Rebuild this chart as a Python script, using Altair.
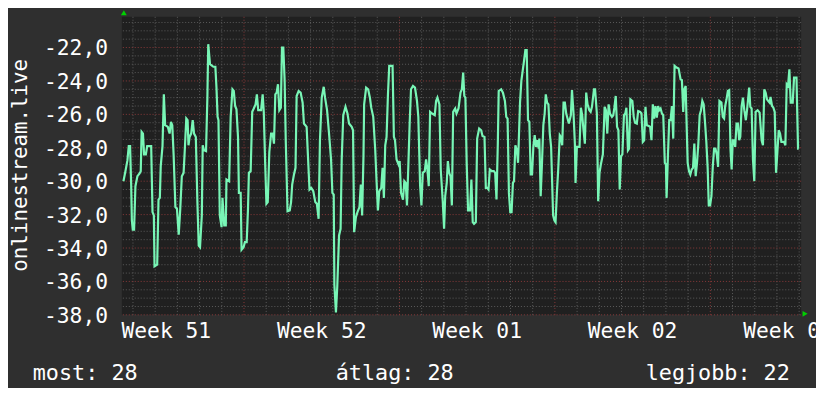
import altair as alt
import pandas as pd

# ---- data (x in days from the left edge, y = value) ----
days_w1 = [0.07, 0.16, 0.25, 0.31, 0.37, 0.42, 0.45, 0.49, 0.55, 0.61, 0.70, 0.79, 0.85, 0.89, 0.95, 1.00,
           1.08, 1.14, 1.32, 1.38, 1.44, 1.47, 1.59, 1.65, 1.71, 1.75, 1.83, 1.89, 1.95, 2.07, 2.15, 2.21,
           2.27, 2.33, 2.41, 2.48, 2.56, 2.63, 2.70, 2.78, 2.84, 2.90, 2.96, 3.00, 3.05, 3.12, 3.19, 3.25,
           3.33, 3.40, 3.46, 3.52, 3.60, 3.64, 3.70, 3.79, 3.85, 3.89, 3.97, 4.12, 4.21, 4.26, 4.31, 4.35,
           4.41, 4.49, 4.53, 4.61, 4.68, 4.71, 4.83, 4.90, 4.98, 5.04, 5.10, 5.16, 5.23, 5.27, 5.35, 5.39,
           5.48, 5.54, 5.62, 5.68, 5.72, 5.80, 5.87, 5.94, 6.02, 6.08, 6.14, 6.27, 6.34, 6.39, 6.45, 6.51,
           6.57, 6.64, 6.72, 6.79, 6.85, 6.91, 6.97, 7.03, 7.09, 7.16, 7.21, 7.27, 7.33, 7.38, 7.46, 7.56,
           7.62, 7.67, 7.75, 7.82]
vals_w1 = [-30.0, -29.4, -28.76, -27.9, -27.9, -30.3, -32.35, -32.9, -32.9, -30.3, -29.7, -29.55, -29.4, -27.05, -27.15, -28.4,
           -28.4, -27.9, -27.9, -31.85, -32.05, -35.1, -35.0, -31.1, -31.0, -29.1, -27.9, -24.8, -26.65, -26.75, -27.15, -26.45,
           -26.65, -28.4, -31.55, -31.65, -33.2, -31.65, -29.7, -29.5, -27.95, -26.25, -26.35, -27.85, -27.35, -27.15, -26.35, -27.15,
           -27.35, -31.2, -33.85, -33.95, -32.05, -27.85, -28.15, -28.2, -25.0, -21.8, -23.0, -23.15, -23.15, -24.4, -26.15, -26.35,
           -32.05, -32.75, -31.0, -32.65, -32.65, -29.9, -30.0, -26.15, -24.5, -24.6, -25.5, -25.7, -27.35, -30.7, -30.7, -34.1,
           -33.95, -33.65, -33.65, -31.65, -29.5, -29.4, -25.85, -25.65, -25.4, -24.8, -25.75, -25.75, -24.8, -25.85, -28.8, -31.35,
           -31.25, -28.25, -27.15, -27.15, -27.75, -24.8, -24.7, -24.2, -25.75, -25.6, -22.0, -22.0, -24.0, -27.55, -31.8, -31.75,
           -31.25, -30.2, -29.6, -29.2]

days_w2 = [7.87, 7.96, 8.05, 8.14, 8.20, 8.32, 8.38, 8.45, 8.53, 8.62, 8.71, 8.78, 8.86, 8.92, 9.00, 9.09,
           9.15, 9.24, 9.33, 9.42, 9.48, 9.54, 9.57, 9.64, 9.70, 9.78, 9.85, 9.90, 9.97, 10.07, 10.16, 10.23,
           10.35, 10.41, 10.46, 10.54, 10.61, 10.70, 10.76, 10.82, 10.88, 10.91, 11.00, 11.09, 11.17, 11.23, 11.32, 11.41,
           11.47, 11.53, 11.59, 11.68, 11.74, 11.80, 11.86, 11.92, 11.98, 12.04, 12.19, 12.25, 12.30, 12.37, 12.46, 12.51,
           12.57, 12.66, 12.72, 12.78, 12.84, 12.90, 12.96, 13.02, 13.11, 13.20, 13.29, 13.35, 13.43, 13.49, 13.55, 13.64,
           13.70, 13.76, 13.82, 13.88, 13.97, 14.09, 14.15, 14.21, 14.30, 14.36, 14.45, 14.51, 14.56, 14.63, 14.68, 14.74,
           14.80, 14.86, 14.92, 15.01, 15.07, 15.16, 15.25, 15.31, 15.37]
vals_w2 = [-24.9, -24.6, -24.7, -25.3, -26.55, -26.75, -28.5, -30.5, -30.4, -30.6, -31.25, -31.35, -32.25, -27.55, -25.0, -24.35,
           -25.0, -25.75, -27.15, -28.7, -30.7, -30.8, -36.2, -37.85, -36.3, -33.25, -32.85, -28.7, -26.05, -25.55, -25.95, -26.55,
           -26.75, -26.95, -33.05, -32.15, -31.85, -31.55, -30.2, -32.05, -28.5, -25.4, -24.4, -24.5, -25.0, -25.6, -26.15, -28.15,
           -30.0, -31.75, -30.6, -30.4, -29.2, -31.0, -27.85, -27.35, -24.9, -23.1, -23.1, -27.35, -27.55, -28.7, -29.0, -28.8,
           -30.7, -31.1, -30.0, -30.1, -31.45, -29.1, -26.55, -24.5, -24.3, -24.4, -25.2, -26.15, -30.25, -31.45, -29.5, -29.4,
           -28.7, -29.3, -30.3, -25.85, -25.95, -26.05, -25.2, -25.0, -25.4, -29.3, -31.2, -32.85, -30.9, -30.1, -28.8, -29.5,
           -29.7, -31.45, -25.85, -25.65, -25.95, -25.65, -24.7, -24.5, -23.5]

days_w3 = [15.42, 15.47, 15.53, 15.59, 15.68, 15.74, 15.80, 15.86, 15.94, 16.00, 16.09, 16.18, 16.24, 16.33, 16.39, 16.45,
           16.51, 16.57, 16.66, 16.75, 16.81, 16.87, 16.93, 16.97, 17.08, 17.16, 17.25, 17.31, 17.37, 17.43, 17.49, 17.55,
           17.61, 17.66, 17.72, 17.79, 17.84, 17.87, 17.93, 17.99, 18.05, 18.11, 18.17, 18.23, 18.29, 18.35, 18.41, 18.47,
           18.53, 18.59, 18.65, 18.71, 18.77, 18.80, 18.86, 18.92, 18.98, 19.04, 19.09, 19.15, 19.21, 19.27, 19.33, 19.42,
           19.48, 19.53, 19.59, 19.65, 19.72, 19.77, 19.83, 19.89, 19.95, 20.01, 20.07, 20.13, 20.22, 20.27, 20.34, 20.40,
           20.43, 20.49, 20.61, 20.67, 20.73, 20.79, 20.85, 20.91, 20.97, 21.05, 21.11, 21.17, 21.26, 21.31, 21.39, 21.45,
           21.51, 21.57, 21.66, 21.74, 21.80, 21.86, 21.92, 21.98, 22.07, 22.13, 22.18, 22.24, 22.30, 22.36, 22.42, 22.48,
           22.54, 22.61, 22.67, 22.72, 22.79, 22.84, 22.90, 22.99, 23.05, 23.11, 23.19]
vals_w3 = [-24.9, -25.0, -29.0, -31.75, -31.75, -29.9, -32.45, -32.55, -32.45, -27.45, -26.85, -26.95, -27.3, -27.35, -30.4, -30.4,
           -30.5, -29.3, -29.4, -29.4, -29.5, -31.1, -27.75, -24.6, -24.5, -24.7, -25.2, -26.15, -26.25, -30.7, -31.85, -31.85,
           -30.1, -30.0, -27.85, -28.15, -28.9, -27.75, -25.3, -24.0, -23.4, -22.8, -22.15, -22.15, -26.35, -26.45, -29.6, -29.6,
           -27.95, -27.25, -27.95, -27.55, -28.05, -27.45, -30.9, -28.9, -26.65, -25.95, -24.8, -25.3, -25.4, -27.15, -27.95, -32.05,
           -32.35, -32.45, -30.7, -29.3, -27.25, -27.35, -27.85, -25.3, -25.3, -25.95, -26.25, -26.55, -26.05, -24.55, -25.95, -27.75,
           -30.1, -27.95, -27.95, -25.6, -26.05, -26.95, -27.75, -24.7, -25.4, -25.75, -25.85, -25.55, -24.5, -24.5, -25.95, -31.2,
           -29.5, -29.0, -28.4, -25.55, -25.75, -27.15, -25.4, -25.95, -26.15, -26.05, -25.6, -24.9, -26.75, -26.95, -30.5, -28.5,
           -28.4, -26.05, -25.95, -25.6, -28.15, -28.05, -25.1, -25.2, -26.15, -26.5, -26.55]

days_w4 = [23.25, 23.34, 23.40, 23.46, 23.52, 23.58, 23.64, 23.73, 23.79, 23.85, 23.91, 23.97, 24.03, 24.09, 24.15, 24.20,
           24.26, 24.32, 24.38, 24.45, 24.50, 24.53, 24.59, 24.65, 24.71, 24.77, 24.83, 24.89, 24.98, 25.07, 25.16, 25.22,
           25.28, 25.33, 25.39, 25.42, 25.48, 25.54, 25.60, 25.66, 25.72, 25.78, 25.84, 25.90, 25.96, 26.02, 26.08, 26.14,
           26.20, 26.26, 26.32, 26.38, 26.43, 26.49, 26.55, 26.61, 26.67, 26.73, 26.79, 26.85, 26.91, 27.00, 27.06, 27.12,
           27.17, 27.23, 27.29, 27.35, 27.41, 27.46, 27.51, 27.57, 27.62, 27.68, 27.74, 27.80, 27.85, 27.91, 27.97, 28.03,
           28.10, 28.16, 28.25, 28.30, 28.36, 28.42, 28.48, 28.54, 28.63, 28.72, 28.81, 28.87, 28.93, 28.99, 29.05, 29.11,
           29.17, 29.21, 29.28, 29.34, 29.40, 29.46, 29.52, 29.58, 29.64, 29.70, 29.76, 29.82, 29.88, 29.94, 30.00, 30.06,
           30.12, 30.21, 30.27, 30.38, 30.45, 30.48]
vals_w4 = [-25.8, -25.85, -25.95, -27.65, -27.55, -25.55, -26.65, -26.7, -26.75, -27.55, -25.4, -26.25, -25.5, -26.2, -25.5, -25.75,
           -25.65, -25.95, -26.05, -28.9, -29.0, -31.0, -28.5, -26.35, -26.35, -25.5, -27.45, -23.1, -23.2, -23.25, -23.9, -23.95,
           -25.85, -24.5, -24.3, -25.95, -28.9, -29.4, -29.6, -29.3, -29.2, -27.75, -29.7, -28.9, -27.75, -26.05, -25.75, -25.2,
           -25.4, -26.45, -27.65, -29.2, -31.45, -31.45, -30.9, -29.15, -28.05, -28.05, -28.4, -29.15, -25.2, -25.3, -26.15, -26.25,
           -25.5, -25.1, -24.6, -24.55, -28.15, -29.3, -27.55, -27.55, -27.95, -26.55, -26.55, -27.55, -27.35, -25.5, -25.0, -25.75,
           -26.35, -25.65, -24.4, -25.55, -25.65, -28.7, -30.0, -25.85, -25.75, -25.9, -27.55, -27.85, -24.5, -24.7, -25.1, -25.2,
           -25.3, -24.95, -25.5, -25.6, -25.85, -29.5, -28.25, -26.95, -27.15, -27.65, -27.65, -27.65, -27.85, -24.2, -24.3, -23.3,
           -25.3, -25.3, -23.8, -23.8, -28.05, -28.05]

y_ticks = [-38, -36, -34, -32, -30, -28, -26, -24, -22]
y_tick_labels = ["-38,0", "-36,0", "-34,0", "-32,0", "-30,0", "-28,0", "-26,0", "-24,0", "-22,0"]
y_minor = [-38 + 0.5 * i for i in range(36)]
week_pos = [2, 9, 16, 23, 30]
week_names = ["Week 51", "Week 52", "Week 01", "Week 02", "Week 03"]
week_starts = [5.5, 12.5, 19.5, 26.5]
day_lines = [k + 0.5 for k in range(31) if (k + 0.5) not in week_starts]
y_title = "onlinestream.live"
legend_texts = ["most: 28", "átlag: 28", "legjobb: 22"]

X_DOMAIN = [0, 30.59]
Y_DOMAIN = [-38, -20.16]

FONT = "DejaVu Sans Mono"
TEXT = "#ffffff"
LINE = "#78f6b6"
MINOR = "#5c5c5c"
MAJOR = "#8c3a3a"

series = pd.DataFrame({"day": days_w1 + days_w2 + days_w3 + days_w4,
                       "value": vals_w1 + vals_w2 + vals_w3 + vals_w4})

xs = alt.Scale(domain=X_DOMAIN, nice=False, zero=False)
ys = alt.Scale(domain=Y_DOMAIN, nice=False, zero=False)

# grid
hminor = alt.Chart(pd.DataFrame({"v": [v for v in y_minor if v % 2 != 0]})).mark_rule(
    color=MINOR, strokeWidth=1, strokeDash=[1, 2]).encode(y=alt.Y("v:Q", scale=ys, axis=None))
hmajor = alt.Chart(pd.DataFrame({"v": y_ticks})).mark_rule(
    color=MAJOR, strokeWidth=1, strokeDash=[1, 2]).encode(y=alt.Y("v:Q", scale=ys, axis=None))
vminor = alt.Chart(pd.DataFrame({"d": day_lines})).mark_rule(
    color=MINOR, strokeWidth=1, strokeDash=[1, 2]).encode(x=alt.X("d:Q", scale=xs, axis=None))
vmajor = alt.Chart(pd.DataFrame({"d": week_starts})).mark_rule(
    color=MAJOR, strokeWidth=1, strokeDash=[1, 2]).encode(x=alt.X("d:Q", scale=xs, axis=None))

# the series
line = alt.Chart(series).mark_line(color=LINE, strokeWidth=2.2, interpolate="linear").encode(
    x=alt.X("day:Q", scale=xs, axis=None),
    y=alt.Y("value:Q", scale=ys, axis=None),
)

# y tick labels, placed through the y scale
ylab = alt.Chart(pd.DataFrame({"v": y_ticks, "t": y_tick_labels})).mark_text(
    font=FONT, fontSize=21.5, color=TEXT, align="right", baseline="alphabetic", dy=8).encode(
    y=alt.Y("v:Q", scale=ys, axis=None), x=alt.value(-14), text="t:N")

# week labels, placed through the x scale
xlab = alt.Chart(pd.DataFrame({"p": week_pos, "t": week_names})).mark_text(
    font=FONT, fontSize=21.5, color=TEXT, align="center", baseline="alphabetic").encode(
    x=alt.X("p:Q", scale=xs, axis=None), y=alt.value(324), text="t:N")

ytitle = alt.Chart(pd.DataFrame({"t": [y_title]})).mark_text(
    font=FONT, fontSize=21, color=TEXT, align="center", baseline="alphabetic", angle=270).encode(
    x=alt.value(-96), y=alt.value(150), text="t:N")

legend_x = [-90, 216, 529]
legend_layers = [
    alt.Chart(pd.DataFrame({"t": [t]})).mark_text(
        font=FONT, fontSize=22, color=TEXT, align="left", baseline="alphabetic").encode(
        text="t:N", x=alt.value(px), y=alt.value(367))
    for t, px in zip(legend_texts, legend_x)
]

arrow_up = alt.Chart(pd.DataFrame({"a": [0]})).mark_point(
    shape="triangle-up", filled=True, size=35, color="#00d000", opacity=1).encode(
    x=alt.value(2), y=alt.value(-4))
arrow_right = alt.Chart(pd.DataFrame({"a": [0]})).mark_point(
    shape="triangle-right", filled=True, size=35, color="#00d000", opacity=1).encode(
    x=alt.value(690), y=alt.value(300))

chart = alt.layer(hminor, vminor, hmajor, vmajor, line, ylab, xlab, ytitle,
                  arrow_up, arrow_right, *legend_layers).properties(
    width=686, height=301,
    padding={"left": 115, "top": 7, "right": 15, "bottom": 72},
    autosize="none",
    background="#2f2f2f",
).configure_view(fill="#202020", stroke=None)

chart.save("out.html", embed_options={"renderer": "svg", "actions": False})
